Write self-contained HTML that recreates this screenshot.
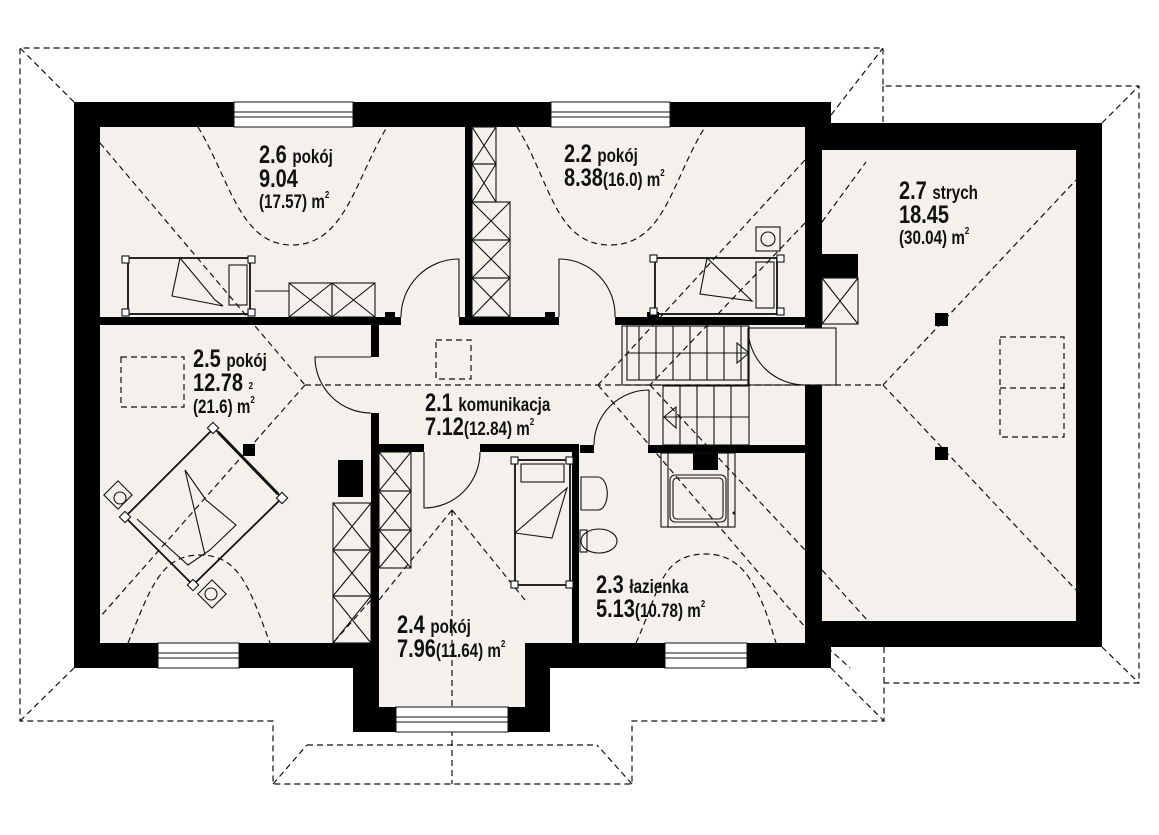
<!DOCTYPE html>
<html><head><meta charset="utf-8"><style>
html,body{margin:0;padding:0;background:#fff;}
svg{display:block;}
text{font-family:"Liberation Sans",sans-serif;font-weight:bold;fill:#111;}
</style></head><body>
<svg width="1159" height="835" viewBox="0 0 1159 835" xmlns="http://www.w3.org/2000/svg">
<g fill="#f4f1ec">
<rect x="100" y="127" width="705" height="518"/>
<rect x="379" y="450" width="146" height="258"/>
<rect x="822" y="150" width="254" height="471"/>
<rect x="805" y="328" width="31" height="57"/>
</g>
<g fill="none" stroke="#111" stroke-width="1.2" stroke-dasharray="6,4">
<polyline points="74,102 20,48 883,48 883,86 1139,86 1139,683 884,683 884,721 632,721 632,784 273,784 273,721 20,721 20,48"/>
<line x1="307" y1="745" x2="597" y2="745"/>
<line x1="273" y1="784" x2="307" y2="745"/>
<line x1="632" y1="784" x2="597" y2="745"/>
<line x1="20" y1="721" x2="74" y2="668"/>
<line x1="831" y1="668" x2="884" y2="721"/>
<line x1="1102" y1="647" x2="1139" y2="683"/>
<line x1="1102" y1="123" x2="1139" y2="86"/>
<line x1="831" y1="115" x2="883" y2="48"/>
<line x1="884" y1="647" x2="884" y2="683"/>
<line x1="883" y1="86" x2="883" y2="123"/>
<line x1="100" y1="143" x2="305" y2="385"/>
<line x1="305" y1="385" x2="100" y2="617"/>
<line x1="305" y1="385" x2="883" y2="385"/>
<line x1="805" y1="160" x2="598" y2="385"/>
<line x1="805" y1="223" x2="650" y2="385"/>
<line x1="598" y1="385" x2="805" y2="627"/>
<line x1="650" y1="385" x2="805" y2="550"/>
<line x1="822" y1="222" x2="866" y2="162"/>
<line x1="883" y1="385" x2="1076" y2="180"/>
<line x1="883" y1="385" x2="1076" y2="590"/>
<line x1="822" y1="570" x2="868" y2="621"/>
<line x1="452" y1="510" x2="379" y2="600"/>
<line x1="452" y1="510" x2="525" y2="600"/>
<line x1="452" y1="510" x2="452" y2="784"/>
<line x1="371" y1="600" x2="333" y2="643"/>
<line x1="805" y1="627" x2="850" y2="668"/>
<path d="M198,127 C230,180 240,245 292,245 C345,245 355,180 387,127"/>
<path d="M517,127 C550,180 555,245 610,245 C665,245 672,180 705,127"/>
<path d="M128,643 C150,590 160,555 200,555 C240,555 250,590 270,643"/>
<path d="M636,643 C660,590 660,554 706,554 C745,554 760,590 776,643"/>
<rect x="121" y="357" width="63" height="50"/>
<rect x="436" y="340" width="35" height="39"/>
<rect x="1000" y="337" width="64" height="100"/>
<line x1="1000" y1="388" x2="1064" y2="388"/>
</g>
<g fill="#000">
<rect x="74" y="102" width="26" height="566"/>
<rect x="74" y="102" width="757" height="25"/>
<rect x="805" y="123" width="297" height="27"/>
<rect x="805" y="123" width="17" height="205"/>
<rect x="805" y="385" width="17" height="283"/>
<rect x="1076" y="123" width="26" height="524"/>
<rect x="805" y="621" width="297" height="26"/>
<rect x="74" y="643" width="305" height="25"/>
<rect x="353" y="643" width="26" height="89"/>
<rect x="353" y="707" width="197" height="25"/>
<rect x="525" y="643" width="25" height="89"/>
<rect x="525" y="643" width="306" height="25"/>
<rect x="100" y="317" width="301" height="8"/>
<rect x="459" y="317" width="100" height="8"/>
<rect x="465" y="127" width="7" height="198"/>
<rect x="615" y="317" width="190" height="8"/>
<rect x="371" y="325" width="8" height="32"/>
<rect x="371" y="413" width="8" height="230"/>
<rect x="379" y="444" width="45" height="8"/>
<rect x="480" y="444" width="99" height="8"/>
<rect x="572" y="444" width="7" height="199"/>
<rect x="648" y="445" width="157" height="8"/>
<rect x="580" y="445" width="14" height="8"/>
<rect x="822" y="254" width="36" height="24"/>
<rect x="338" y="460" width="25" height="37"/>
<rect x="243" y="444" width="12" height="12"/>
<rect x="935" y="313" width="13" height="13"/>
<rect x="935" y="447" width="13" height="13"/>
<rect x="693" y="453" width="25" height="17"/>
<rect x="385" y="312" width="10" height="6"/>
<rect x="545" y="312" width="10" height="6"/>
<rect x="647" y="312" width="12" height="6"/>
</g>
<g fill="#fff" stroke="#111" stroke-width="1">
<rect x="234" y="102" width="119" height="25"/>
<rect x="551" y="102" width="119" height="25"/>
<rect x="158" y="643" width="81" height="25"/>
<rect x="396" y="707" width="112" height="25"/>
<rect x="665" y="643" width="82" height="25"/>
</g>
<g stroke="#111" stroke-width="1">
<line x1="234" y1="112" x2="353" y2="112"/><line x1="234" y1="117" x2="353" y2="117"/>
<line x1="551" y1="112" x2="670" y2="112"/><line x1="551" y1="117" x2="670" y2="117"/>
<line x1="158" y1="653" x2="239" y2="653"/><line x1="158" y1="658" x2="239" y2="658"/>
<line x1="396" y1="717" x2="508" y2="717"/><line x1="396" y1="722" x2="508" y2="722"/>
<line x1="665" y1="653" x2="747" y2="653"/><line x1="665" y1="658" x2="747" y2="658"/>
</g>
<g fill="none" stroke="#111" stroke-width="1.1">
<rect x="472" y="127" width="24" height="37"/><path d="M472,127L496,164M496,127L472,164"/>
<rect x="472" y="164" width="24" height="38"/><path d="M472,164L496,202M496,164L472,202"/>
<rect x="472" y="202" width="38" height="38"/><path d="M472,202L510,240M510,202L472,240"/>
<rect x="472" y="240" width="38" height="38"/><path d="M472,240L510,278M510,240L472,278"/>
<rect x="472" y="278" width="38" height="39"/><path d="M472,278L510,317M510,278L472,317"/>
<rect x="289" y="283" width="43" height="34"/><path d="M289,283L332,317M332,283L289,317"/>
<rect x="332" y="283" width="43" height="34"/><path d="M332,283L375,317M375,283L332,317"/>
<line x1="255" y1="291" x2="289" y2="291"/>
<rect x="333" y="503" width="38" height="47"/><path d="M333,503L371,550M371,503L333,550"/>
<rect x="333" y="550" width="38" height="46"/><path d="M333,550L371,596M371,550L333,596"/>
<rect x="333" y="596" width="38" height="47"/><path d="M333,596L371,643M371,596L333,643"/>
<rect x="379" y="452" width="32" height="39"/><path d="M379,452L411,491M411,452L379,491"/>
<rect x="379" y="491" width="32" height="39"/><path d="M379,491L411,530M411,491L379,530"/>
<rect x="379" y="530" width="32" height="38"/><path d="M379,530L411,568M411,530L379,568"/>
<rect x="822" y="278" width="36" height="46"/><path d="M822,278L858,324M858,278L822,324"/>
<rect x="128" y="258" width="122" height="56" stroke-width="1.8"/>
<rect x="122" y="256" width="7" height="7" fill="#fff"/><rect x="248" y="256" width="7" height="7" fill="#fff"/>
<rect x="122" y="309" width="7" height="7" fill="#fff"/><rect x="248" y="309" width="7" height="7" fill="#fff"/>
<rect x="229" y="265" width="18" height="40"/>
<path d="M180,258 L172,296 L223,306 L215,300 Z"/>
<rect x="655" y="258" width="122" height="56" stroke-width="1.8"/>
<rect x="650" y="255" width="7" height="7" fill="#fff"/><rect x="777" y="255" width="7" height="7" fill="#fff"/>
<rect x="650" y="308" width="7" height="7" fill="#fff"/><rect x="777" y="308" width="7" height="7" fill="#fff"/>
<rect x="756" y="262" width="18" height="46"/>
<path d="M707,258 L700,294 L752,301 Z"/>
<rect x="756" y="227" width="24" height="24"/><circle cx="768" cy="239" r="7"/>
<rect x="515" y="460" width="55" height="125" stroke-width="1.8"/>
<rect x="511" y="457" width="7" height="7" fill="#fff"/><rect x="566" y="457" width="7" height="7" fill="#fff"/>
<rect x="511" y="581" width="7" height="7" fill="#fff"/><rect x="566" y="581" width="7" height="7" fill="#fff"/>
<rect x="521" y="464" width="43" height="18"/>
<path d="M515,533 L552,538 L567,488 Z"/>
<polygon points="214,428 282,498 193,585 125,517" stroke-width="1.8"/>
<line x1="218" y1="432" x2="278" y2="494" stroke-width="3"/>
<path d="M185,470 L206,500 L236,525 L210,550 L188,565 L137,519"/>
<path d="M185,470 L198,525 L205,555"/>
<rect x="209" y="424" width="8" height="8" fill="#fff" transform="rotate(45 213 428)"/>
<rect x="278" y="494" width="8" height="8" fill="#fff" transform="rotate(45 282 498)"/>
<rect x="189" y="581" width="8" height="8" fill="#fff" transform="rotate(45 193 585)"/>
<rect x="121" y="513" width="8" height="8" fill="#fff" transform="rotate(45 125 517)"/>
<rect x="108" y="485" width="20" height="20" transform="rotate(45 118 495)"/><circle cx="120" cy="498" r="6"/>
<rect x="202" y="584" width="20" height="20" transform="rotate(45 212 594)"/><circle cx="211" cy="594" r="6"/>
<path d="M401,317 A58,58 0 0 1 459,259 L459,317"/>
<path d="M559,317 L559,259 A56,56 0 0 1 615,317"/>
<path d="M371,357 L315,357 A56,56 0 0 0 371,413"/>
<path d="M424,452 L424,508 A56,56 0 0 0 480,452"/>
<path d="M594,445 A55,55 0 0 1 649,390 L649,445"/>
<rect x="748" y="328" width="88" height="57"/>
<path d="M748,328 A57,57 0 0 0 805,385"/>
<rect x="622" y="326" width="127" height="59"/>
<rect x="627" y="326" width="122" height="54"/>
<rect x="663" y="386" width="86" height="59"/>
<path d="M639,326V380M656,326V380M673,326V380M690,326V380M707,326V380M724,326V380M741,326V380"/>
<path d="M680,386V445M697,386V445M714,386V445M731,386V445"/>
<line x1="627" y1="353" x2="749" y2="353"/><path d="M737,343 L749,353 L737,363 Z"/>
<line x1="663" y1="417" x2="749" y2="417"/><path d="M676,407 L664,417 L676,428 Z"/>
<rect x="661" y="453" width="74" height="74"/>
<rect x="668" y="453" width="60" height="74"/>
<rect x="670" y="475" width="56" height="47" rx="5"/>
<rect x="673" y="478" width="50" height="41" rx="4"/>
<path d="M581,477 L598,477 A9,16 0 0 1 598,510 L581,510 Z"/>
<rect x="580" y="530" width="7" height="22"/>
<ellipse cx="599" cy="541" rx="18" ry="12"/>
</g>
<circle cx="734" cy="513" r="1.5" fill="#111"/>
<g transform="translate(259,163) scale(0.8,1)"><text font-size="25">2.6 <tspan font-size="19">pokój</tspan></text></g>
<g transform="translate(259,187) scale(0.8,1)"><text font-size="25">9.04</text></g>
<g transform="translate(259,208) scale(0.8,1)"><text font-size="19">(17.57) m<tspan font-size="10" dy="-10">2</tspan></text></g>
<g transform="translate(564,162) scale(0.8,1)"><text font-size="25">2.2 <tspan font-size="19">pokój</tspan></text></g>
<g transform="translate(564,186) scale(0.8,1)"><text font-size="25">8.38<tspan font-size="19">(16.0) m</tspan><tspan font-size="10" dy="-10">2</tspan></text></g>
<g transform="translate(899,199) scale(0.8,1)"><text font-size="25">2.7 <tspan font-size="19">strych</tspan></text></g>
<g transform="translate(899,223) scale(0.8,1)"><text font-size="25">18.45</text></g>
<g transform="translate(899,244) scale(0.8,1)"><text font-size="19">(30.04) m<tspan font-size="10" dy="-10">2</tspan></text></g>
<g transform="translate(193,367) scale(0.8,1)"><text font-size="25">2.5 <tspan font-size="19">pokój</tspan></text></g>
<g transform="translate(193,391) scale(0.8,1)"><text font-size="25">12.78 <tspan font-size="10" dy="-2">2</tspan></text></g>
<g transform="translate(193,413) scale(0.8,1)"><text font-size="19">(21.6) m<tspan font-size="10" dy="-10">2</tspan></text></g>
<g transform="translate(425,411) scale(0.8,1)"><text font-size="25">2.1 <tspan font-size="19">komunikacja</tspan></text></g>
<g transform="translate(425,435) scale(0.8,1)"><text font-size="25">7.12<tspan font-size="19">(12.84) m</tspan><tspan font-size="10" dy="-10">2</tspan></text></g>
<g transform="translate(397,633) scale(0.8,1)"><text font-size="25">2.4 <tspan font-size="19">pokój</tspan></text></g>
<g transform="translate(397,657) scale(0.8,1)"><text font-size="25">7.96<tspan font-size="19">(11.64) m</tspan><tspan font-size="10" dy="-10">2</tspan></text></g>
<g transform="translate(596,593) scale(0.8,1)"><text font-size="25">2.3 <tspan font-size="19">łazienka</tspan></text></g>
<g transform="translate(596,617) scale(0.8,1)"><text font-size="25">5.13<tspan font-size="19">(10.78) m</tspan><tspan font-size="10" dy="-10">2</tspan></text></g>
</svg>
</body></html>
